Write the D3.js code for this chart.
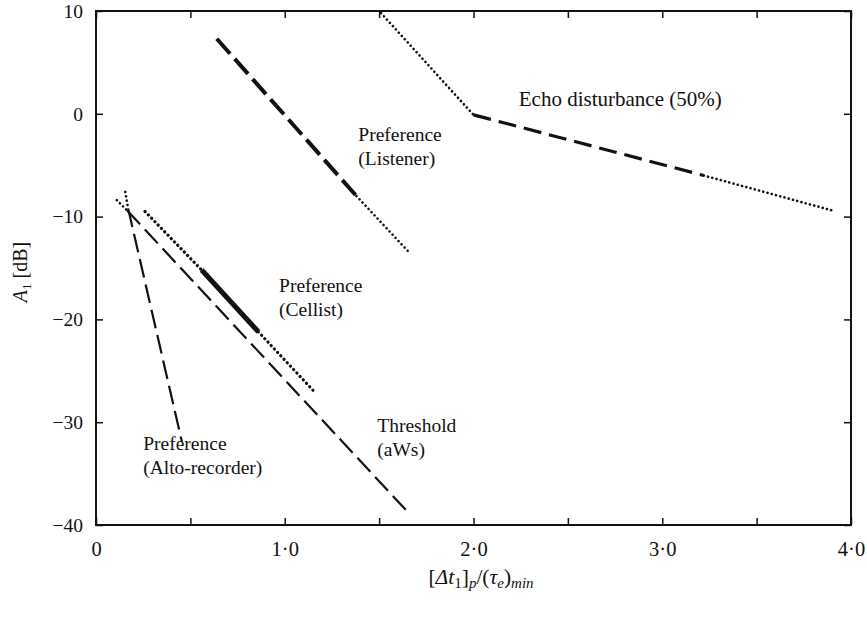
<!DOCTYPE html>
<html lang="en">
<head>
  <meta charset="UTF-8">
  <title>A1 vs [Δt1]p/(τe)min</title>
  <script src="https://d3js.org/d3.v7.min.js"></script>
  <style>
    body { margin: 0; background: #fff; }
    text { font-family: "Liberation Serif", "Times New Roman", "DejaVu Serif", serif; fill: #111; }
  </style>
</head>
<body>
  <div class="canvas"></div>
  <script>
    const width = 867;
    const height = 617;
    const [mt, mr, mb, ml] = [11, 16, 92, 96];

    // tick values
    const xTicks = [0, 0.5, 1, 1.5, 2, 2.5, 3, 3.5, 4];
    const xTickLabels = ["0", "", "1·0", "", "2·0", "", "3·0", "", "4·0"];
    const yTicks = [10, 0, -10, -20, -30, -40];
    const yTickLabels = ["10", "0", "−10", "−20", "−30", "−40"];

    // curves, one point list per series
    const echoX = [1.51, 2.0, 3.22, 3.9];
    const echoY = [9.8, -0.1, -6.0, -9.4];
    const listenerX = [0.64, 1.38, 1.66];
    const listenerY = [7.3, -8.0, -13.5];
    const cellistX = [0.26, 0.56, 0.86, 1.15];
    const cellistY = [-9.5, -15.2, -21.2, -26.9];
    const thresholdX = [0.11, 0.165, 1.65];
    const thresholdY = [-8.4, -9.4, -38.7];
    const altoX = [0.155, 0.17, 0.455];
    const altoY = [-7.6, -9.2, -31.9];

    const labels = [
      { lines: ["Echo disturbance (50%)"], x: 2.24, y: 0.8 },
      { lines: ["Preference", "(Listener)"], x: 1.39, y: -2.6 },
      { lines: ["Preference", "(Cellist)"], x: 0.97, y: -17.3 },
      { lines: ["Threshold", "(aWs)"], x: 1.49, y: -31.0 },
      { lines: ["Preference", "(Alto-recorder)"], x: 0.25, y: -32.7 }
    ];
    const labelSize = [21, 19.5, 19.5, 19.5, 19.5];

    // line styles per segment
    const styles = {
      dotted: { w: 2.6, dash: "0.1,4.3" },
      dottedBold: { w: 3.2, dash: "0.1,4.6" },
      dashBold: { w: 4, dash: "20,7" },
      dashMed: { w: 3.2, dash: "18,8" },
      dashThin: { w: 2.2, dash: "19,7" },
      solidBold: { w: 5, dash: null }
    };

    const series = [
      { xs: echoX, ys: echoY, seg: ["dotted", "dashMed", "dotted"] },
      { xs: listenerX, ys: listenerY, seg: ["dashBold", "dotted"] },
      { xs: cellistX, ys: cellistY, seg: ["dottedBold", "solidBold", "dottedBold"] },
      { xs: thresholdX, ys: thresholdY, seg: ["dotted", "dashThin"] },
      { xs: altoX, ys: altoY, seg: ["dotted", "dashThin"] }
    ];

    const svg = d3.select('.canvas')
      .append('svg')
      .attr('width', width)
      .attr('height', height);

    const graphWidth = width - ml - mr;
    const graphHeight = 525 - mt;

    const graph = svg.append('g')
      .attr('transform', `translate(${ml}, ${mt})`);

    const x = d3.scaleLinear().domain([0, 4]).range([0, graphWidth]);
    const y = d3.scaleLinear().domain([-40, 10]).range([graphHeight, 0]);

    // axes with inward ticks on all four sides
    const fmtX = (d, i) => xTickLabels[i];
    const fmtY = (d, i) => yTickLabels[i];

    const axBottom = graph.append('g')
      .attr('transform', `translate(0, ${graphHeight})`)
      .call(d3.axisBottom(x).tickValues(xTicks).tickFormat(fmtX).tickSizeInner(-7).tickSizeOuter(0).tickPadding(16));
    const axTop = graph.append('g')
      .call(d3.axisTop(x).tickValues(xTicks).tickFormat('').tickSizeInner(-7).tickSizeOuter(0));
    const axLeft = graph.append('g')
      .call(d3.axisLeft(y).tickValues(yTicks).tickFormat(fmtY).tickSizeInner(-7).tickSizeOuter(0).tickPadding(16));
    const axRight = graph.append('g')
      .attr('transform', `translate(${graphWidth}, 0)`)
      .call(d3.axisRight(y).tickValues(yTicks).tickFormat('').tickSizeInner(-7).tickSizeOuter(0));

    [axBottom, axTop, axLeft, axRight].forEach(a => {
      a.attr('font-family', null);
      a.select('.domain').remove();
      a.selectAll('.tick line').attr('stroke', '#111').attr('stroke-width', 1.5);
      a.selectAll('.tick text')
        .attr('font-size', 19.5)
        .attr('fill', '#111');
    });
    axBottom.selectAll('.tick text').attr('dy', '0.71em').attr('font-size', 20.5);
    axLeft.selectAll('.tick text').attr('dx', '3');

    graph.append('rect')
      .attr('width', graphWidth)
      .attr('height', graphHeight)
      .attr('fill', 'none')
      .attr('stroke', '#111')
      .attr('stroke-width', 2);

    // curves, drawn segment by segment
    series.forEach(s => {
      s.seg.forEach((name, i) => {
        const st = styles[name];
        graph.append('line')
          .attr('x1', x(s.xs[i]))
          .attr('y1', y(s.ys[i]))
          .attr('x2', x(s.xs[i + 1]))
          .attr('y2', y(s.ys[i + 1]))
          .attr('stroke', '#111')
          .attr('stroke-width', st.w)
          .attr('stroke-linecap', st.dash && st.dash.startsWith('0.1') ? 'round' : 'butt')
          .attr('stroke-dasharray', st.dash);
      });
    });

    // curve labels
    labels.forEach((l, k) => {
      const t = graph.append('text')
        .attr('x', x(l.x))
        .attr('y', y(l.y))
        .attr('font-size', labelSize[k]);
      l.lines.forEach((line, i) => {
        t.append('tspan')
          .attr('x', x(l.x))
          .attr('dy', i === 0 ? 0 : 24)
          .text(line);
      });
    });

    // x axis title: [Δt1]p/(τe)min
    const xt = svg.append('text')
      .attr('x', 481)
      .attr('y', 584)
      .attr('text-anchor', 'middle')
      .attr('font-size', 21.5);
    xt.append('tspan').text('[');
    xt.append('tspan').attr('font-style', 'italic').text('Δt');
    xt.append('tspan').attr('font-size', 15).attr('dy', 4).text('1');
    xt.append('tspan').attr('dy', -4).text(']');
    xt.append('tspan').attr('font-size', 15).attr('font-style', 'italic').attr('dy', 4).text('p');
    xt.append('tspan').attr('dy', -4).text('/(');
    xt.append('tspan').attr('font-style', 'italic').text('τ');
    xt.append('tspan').attr('font-size', 15).attr('font-style', 'italic').attr('dy', 4).text('e');
    xt.append('tspan').attr('dy', -4).text(')');
    xt.append('tspan').attr('font-size', 15).attr('font-style', 'italic').attr('dy', 4).text('min');

    // y axis title: A1 [dB]
    const yt = svg.append('text')
      .attr('transform', 'translate(27, 272) rotate(-90)')
      .attr('text-anchor', 'middle')
      .attr('font-size', 20);
    yt.append('tspan').attr('font-style', 'italic').text('A');
    yt.append('tspan').attr('font-size', 13).attr('dy', 4).text('1');
    yt.append('tspan').attr('dy', -4).text(' [dB]');
  </script>
</body>
</html>
